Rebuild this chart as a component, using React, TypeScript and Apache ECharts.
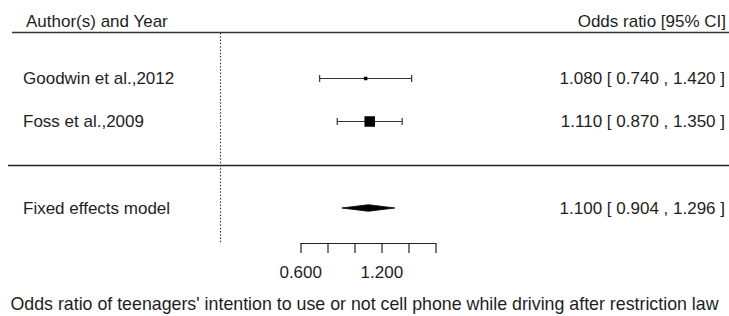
import React, { useEffect, useRef } from "react";
import * as echarts from "echarts";

const studyLabels = ["Goodwin et al.,2012", "Foss et al.,2009"];
const estimates = [1.08, 1.11];
const ciLower = [0.74, 0.87];
const ciUpper = [1.42, 1.35];

const summaryLabel = "Fixed effects model";
const summaryEstimate = 1.1;
const summaryLower = 0.904;
const summaryUpper = 1.296;

const refValue = 0;
const tickValues = [0.6, 0.8, 1.0, 1.2, 1.4, 1.6];
const tickLabels = ["0.600", "", "", "1.200", "", ""];

const headerLeft = "Author(s) and Year";
const headerRight = "Odds ratio [95% CI]";
const xTitle =
  "Odds ratio of teenagers' intention to use or not cell phone while driving after restriction law";

const W = 729;
const H = 316;
const FONT = '"Liberation Sans", Arial, sans-serif';
const FS = 17;
const TITLE_FS = 17.8;
const TEXT = "#1e1e1e";
const LINE = "#222";

// layout (pixels <-> data)
const PX_PER_UNIT = 135.3;
const X_ORIGIN_VAL = 0.6;
const X_ORIGIN_PX = 300.7;
const ROW_PX = 43.33;
const ROW_REF = 5;
const ROW_REF_PX = 78;

const xMin = X_ORIGIN_VAL - X_ORIGIN_PX / PX_PER_UNIT;
const xMax = X_ORIGIN_VAL + (W - X_ORIGIN_PX) / PX_PER_UNIT;
const yMax = ROW_REF + ROW_REF_PX / ROW_PX;
const yMin = ROW_REF - (H - ROW_REF_PX) / ROW_PX;

const studyRows = studyLabels.map((_, i) => ROW_REF - i);
const summaryRow = 2;
const sepRow = 3;
const axisRow = 1.2;
const refTopRow = 6.04;
const refBottomRow = 1.17;

const fmt = (v: number) => v.toFixed(3);
const ciText = (e: number, l: number, u: number) => `${fmt(e)} [ ${fmt(l)} , ${fmt(u)} ]`;

function textEl(text: string, x: number, y: number, align: string, fs: number = FS) {
  return {
    type: "text",
    style: {
      text,
      x,
      y,
      fill: TEXT,
      font: `${fs}px ${FONT}`,
      fontSize: fs,
      fontFamily: FONT,
      align,
      verticalAlign: "middle",
      textAlign: align,
      textVerticalAlign: "middle",
    },
  };
}

export default function App() {
  const ref = useRef<HTMLDivElement>(null);

  useEffect(() => {
    if (!ref.current) return;
    const chart = echarts.init(ref.current, undefined, { renderer: "svg" });

    // weights from CI widths (inverse variance)
    const wts = estimates.map((_, i) => {
      const se = (ciUpper[i] - ciLower[i]) / (2 * 1.96);
      return 1 / (se * se);
    });
    const wMin = Math.min(...wts);
    const wMax = Math.max(...wts);
    const sizes = wts.map((w) => 7 * (0.5 + (wMax > wMin ? (w - wMin) / (wMax - wMin) : 0.5)));

    const studyData = estimates.map((e, i) => [e, ciLower[i], ciUpper[i], studyRows[i], sizes[i], i]);

    const option: any = {
      animation: false,
      grid: { left: 0, right: 0, top: 0, bottom: 0 },
      xAxis: { type: "value", min: xMin, max: xMax, show: false },
      yAxis: { type: "value", min: yMin, max: yMax, show: false },
      series: [
        {
          type: "custom",
          coordinateSystem: "cartesian2d",
          data: [[refValue]],
          silent: true,
          renderItem: (params: any, api: any) => {
            const p1 = api.coord([api.value(0), refTopRow]);
            const p2 = api.coord([api.value(0), refBottomRow]);
            const x = Math.round(p1[0]) + 0.5;
            return {
              type: "line",
              shape: { x1: x, y1: p1[1], x2: x, y2: p2[1] },
              style: { stroke: "#333", lineWidth: 1.1, lineDash: [1.5, 1.8] },
            };
          },
        },
        {
          type: "custom",
          coordinateSystem: "cartesian2d",
          data: [[0, sepRow]],
          silent: true,
          renderItem: (params: any, api: any) => {
            const p = api.coord([xMin, api.value(1)]);
            const y = Math.round(p[1]) + 0.5;
            return {
              type: "line",
              shape: { x1: 8, y1: y, x2: W, y2: y },
              style: { stroke: LINE, lineWidth: 1.3 },
            };
          },
        },
        {
          type: "custom",
          coordinateSystem: "cartesian2d",
          data: studyData,
          silent: true,
          renderItem: (params: any, api: any) => {
            const e = api.value(0);
            const lo = api.value(1);
            const hi = api.value(2);
            const row = api.value(3);
            const s = api.value(4);
            const idx = api.value(5);
            const pe = api.coord([e, row]);
            const pl = api.coord([lo, row]);
            const ph = api.coord([hi, row]);
            const y = Math.round(pe[1]) + 0.5;
            const cap = 3.5;
            return {
              type: "group",
              children: [
                { type: "line", shape: { x1: pl[0], y1: y, x2: ph[0], y2: y }, style: { stroke: "#333", lineWidth: 1.2 } },
                { type: "line", shape: { x1: pl[0], y1: y - cap, x2: pl[0], y2: y + cap }, style: { stroke: "#333", lineWidth: 1.2 } },
                { type: "line", shape: { x1: ph[0], y1: y - cap, x2: ph[0], y2: y + cap }, style: { stroke: "#333", lineWidth: 1.2 } },
                { type: "rect", shape: { x: pe[0] - s / 2, y: y - s / 2, width: s, height: s }, style: { fill: "#000" } },
                textEl(studyLabels[idx], 23, pe[1] + 0.5, "left"),
                textEl(ciText(e, lo, hi), 725, pe[1] + 0.5, "right"),
              ],
            };
          },
        },
        {
          type: "custom",
          coordinateSystem: "cartesian2d",
          data: [[summaryEstimate, summaryLower, summaryUpper, summaryRow]],
          silent: true,
          renderItem: (params: any, api: any) => {
            const e = api.value(0);
            const lo = api.value(1);
            const hi = api.value(2);
            const row = api.value(3);
            const pe = api.coord([e, row]);
            const pl = api.coord([lo, row]);
            const ph = api.coord([hi, row]);
            const h = 3.3;
            return {
              type: "group",
              children: [
                {
                  type: "polygon",
                  shape: { points: [[pl[0], pe[1]], [pe[0], pe[1] - h], [ph[0], pe[1]], [pe[0], pe[1] + h]] },
                  style: { fill: "#000", stroke: "#000", lineWidth: 0.8 },
                },
                textEl(summaryLabel, 23, pe[1] + 0.5, "left"),
                textEl(ciText(e, lo, hi), 725, pe[1] + 0.5, "right"),
              ],
            };
          },
        },
        {
          type: "custom",
          coordinateSystem: "cartesian2d",
          data: [[tickValues[0], tickValues[tickValues.length - 1], axisRow]],
          silent: true,
          renderItem: (params: any, api: any) => {
            const p1 = api.coord([api.value(0), api.value(2)]);
            const p2 = api.coord([api.value(1), api.value(2)]);
            const y = Math.round(p1[1]) + 0.5;
            return {
              type: "line",
              shape: { x1: p1[0] - 0.5, y1: y, x2: p2[0] + 0.5, y2: y },
              style: { stroke: LINE, lineWidth: 1.2 },
            };
          },
        },
        {
          type: "custom",
          coordinateSystem: "cartesian2d",
          data: tickValues.map((v, i) => [v, axisRow, i]),
          silent: true,
          renderItem: (params: any, api: any) => {
            const p = api.coord([api.value(0), api.value(1)]);
            const y = Math.round(p[1]) + 0.5;
            const x = Math.round(p[0]);
            const children: any[] = [
              { type: "line", shape: { x1: x, y1: y, x2: x, y2: y + 9.5 }, style: { stroke: LINE, lineWidth: 1.2 } },
            ];
            const lbl = tickLabels[api.value(2)];
            if (lbl) children.push(textEl(lbl, p[0], y + 29, "center"));
            return { type: "group", children };
          },
        },
      ],
      graphic: [
        {
          type: "text",
          style: {
            text: headerLeft, x: 26, y: 21, fill: TEXT, font: `${FS}px ${FONT}`,
            align: "left", verticalAlign: "middle", textAlign: "left", textVerticalAlign: "middle",
          },
        },
        {
          type: "text",
          style: {
            text: headerRight, x: 726, y: 21, fill: TEXT, font: `${FS}px ${FONT}`,
            align: "right", verticalAlign: "middle", textAlign: "right", textVerticalAlign: "middle",
          },
        },
        {
          type: "line",
          shape: { x1: 12, y1: 32.5, x2: W, y2: 32.5 },
          style: { stroke: "#333", lineWidth: 1.4 },
        },
        {
          type: "text",
          style: {
            text: xTitle, x: 364.5, y: 303.5, fill: TEXT, font: `${TITLE_FS}px ${FONT}`,
            align: "center", verticalAlign: "middle", textAlign: "center", textVerticalAlign: "middle",
          },
        },
      ],
    };

    chart.setOption(option);
    return () => chart.dispose();
  }, []);

  return (
    <div
      ref={ref}
      style={{ position: "fixed", left: 0, top: 0, width: W, height: H, background: "#fff" }}
    />
  );
}
